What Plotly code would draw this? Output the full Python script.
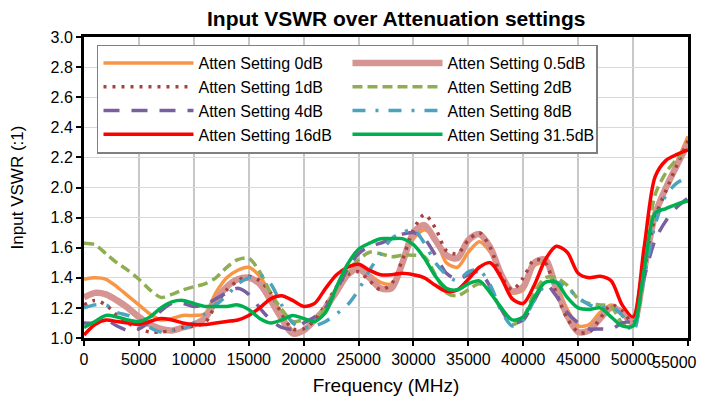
import plotly.graph_objects as go

freq = list(range(0, 56000, 1000))

vswr_0db = [1.39, 1.40, 1.39, 1.34, 1.28, 1.22, 1.16, 1.12, 1.13, 1.15,
            1.15, 1.16, 1.30, 1.40, 1.45, 1.47, 1.41, 1.29, 1.16, 1.05,
            1.05, 1.11, 1.22, 1.33, 1.43, 1.47, 1.42, 1.37, 1.36, 1.50,
            1.66, 1.72, 1.66, 1.50, 1.47, 1.57, 1.64, 1.57, 1.42, 1.30,
            1.32, 1.48, 1.50, 1.36, 1.19, 1.08, 1.09, 1.17, 1.22, 1.17,
            1.11, 1.45, 1.80, 2.00, 2.17, 2.34]
vswr_05db = [1.27, 1.30, 1.29, 1.25, 1.20, 1.14, 1.09, 1.06, 1.05, 1.07,
             1.09, 1.13, 1.25, 1.34, 1.39, 1.40, 1.36, 1.25, 1.13, 1.03,
             1.05, 1.12, 1.20, 1.31, 1.42, 1.46, 1.40, 1.33, 1.33, 1.50,
             1.70, 1.75, 1.65, 1.55, 1.53, 1.65, 1.69, 1.60, 1.42, 1.31,
             1.34, 1.50, 1.52, 1.33, 1.15, 1.04, 1.05, 1.13, 1.20, 1.17,
             1.10, 1.45, 1.82, 2.00, 2.15, 2.29]
vswr_1db = [1.22, 1.25, 1.22, 1.15, 1.10, 1.06, 1.04, 1.04, 1.05, 1.07,
            1.08, 1.10, 1.22, 1.32, 1.38, 1.41, 1.38, 1.30, 1.16, 1.06,
            1.06, 1.12, 1.22, 1.34, 1.42, 1.44, 1.38, 1.32, 1.36, 1.52,
            1.72, 1.82, 1.73, 1.58, 1.56, 1.65, 1.70, 1.60, 1.41, 1.32,
            1.40, 1.52, 1.50, 1.30, 1.13, 1.04, 1.04, 1.13, 1.22, 1.18,
            1.10, 1.45, 1.80, 1.98, 2.15, 2.31]
vswr_2db = [1.63, 1.62, 1.56, 1.50, 1.45, 1.39, 1.32, 1.27, 1.29, 1.32,
            1.34, 1.36, 1.40, 1.47, 1.52, 1.53, 1.44, 1.30, 1.19, 1.11,
            1.12, 1.12, 1.20, 1.33, 1.44, 1.52, 1.57, 1.56, 1.54, 1.55,
            1.55, 1.54, 1.42, 1.30, 1.28, 1.32, 1.36, 1.31, 1.19, 1.09,
            1.14, 1.30, 1.40, 1.40, 1.35, 1.26, 1.23, 1.22, 1.21, 1.10,
            1.08, 1.50, 1.95, 2.10, 2.19, 2.27]
vswr_4db = [1.10, 1.10, 1.12, 1.08, 1.05, 1.06, 1.11, 1.18, 1.23, 1.23,
            1.21, 1.22, 1.26, 1.30, 1.33, 1.29, 1.20, 1.12, 1.07, 1.06,
            1.10, 1.14, 1.20, 1.32, 1.46, 1.56, 1.61, 1.63, 1.66, 1.69,
            1.70, 1.66, 1.55, 1.43, 1.39, 1.42, 1.44, 1.34, 1.19, 1.10,
            1.12, 1.25, 1.36, 1.28, 1.17, 1.10, 1.06, 1.06, 1.06, 1.10,
            1.12, 1.40, 1.65, 1.78, 1.87, 1.93]
vswr_8db = [1.20, 1.22, 1.22, 1.17, 1.15, 1.12, 1.07, 1.04, 1.05, 1.06,
            1.10, 1.16, 1.22, 1.28, 1.36, 1.40, 1.42, 1.36, 1.22, 1.10,
            1.07, 1.08, 1.11, 1.16, 1.22, 1.32, 1.45, 1.56, 1.66, 1.70,
            1.72, 1.63, 1.50, 1.42, 1.38, 1.44, 1.45, 1.35, 1.18, 1.08,
            1.12, 1.25, 1.35, 1.37, 1.33, 1.27, 1.22, 1.20, 1.21, 1.15,
            1.04, 1.40, 1.75, 1.95, 2.03, 2.07]
vswr_16db = [1.02, 1.09, 1.12, 1.11, 1.10, 1.09, 1.11, 1.13, 1.12, 1.10,
             1.09, 1.09, 1.10, 1.11, 1.12, 1.15, 1.20, 1.26, 1.28, 1.25,
             1.21, 1.23, 1.33, 1.42, 1.47, 1.49, 1.45, 1.42, 1.42, 1.43,
             1.42, 1.40, 1.35, 1.31, 1.32, 1.39, 1.47, 1.50, 1.40, 1.26,
             1.23, 1.35, 1.52, 1.61, 1.57, 1.43, 1.40, 1.41, 1.38, 1.22,
             1.14, 1.60, 2.07, 2.18, 2.22, 2.25]
vswr_315db = [1.07, 1.11, 1.15, 1.14, 1.12, 1.11, 1.14, 1.20, 1.24, 1.25,
              1.23, 1.21, 1.21, 1.21, 1.22, 1.19, 1.13, 1.10, 1.12, 1.15,
              1.13, 1.11, 1.17, 1.34, 1.49, 1.59, 1.63, 1.66, 1.66, 1.66,
              1.62, 1.53, 1.41, 1.33, 1.32, 1.36, 1.38, 1.30, 1.20, 1.12,
              1.14, 1.27, 1.37, 1.37, 1.27, 1.20, 1.19, 1.20, 1.14, 1.08,
              1.08, 1.45, 1.83, 1.86, 1.89, 1.91]

series_names = ["Atten Setting 0dB", "Atten Setting 0.5dB", "Atten Setting 1dB",
                "Atten Setting 2dB", "Atten Setting 4dB", "Atten Setting 8dB",
                "Atten Setting 16dB", "Atten Setting 31.5dB"]
series_values = [vswr_0db, vswr_05db, vswr_1db, vswr_2db, vswr_4db, vswr_8db,
                 vswr_16db, vswr_315db]
x_ticks = list(range(0, 56000, 5000))
x_tick_labels = [str(v) for v in x_ticks]
y_ticks = [1.0, 1.2, 1.4, 1.6, 1.8, 2.0, 2.2, 2.4, 2.6, 2.8, 3.0]

styles = [
    dict(color="#F79646", width=3.5, dash="solid"),
    dict(color="#D69592", width=6.5, dash="solid"),
    dict(color="#A5433F", width=3.5, dash="3px,6px"),
    dict(color="#8FAE53", width=3.5, dash="10px,5px"),
    dict(color="#7A5FA0", width=3.5, dash="16px,12px"),
    dict(color="#4BA3C0", width=3.5, dash="13px,10px,3px,10px"),
    dict(color="#FF0000", width=3.5, dash="solid"),
    dict(color="#00B050", width=3.5, dash="solid"),
]

fig = go.Figure()
for name, vals, st in zip(series_names, series_values, styles):
    fig.add_trace(go.Scatter(
        x=freq, y=vals, name=name, mode="lines",
        line=dict(color=st["color"], width=st["width"], dash=st["dash"],
                  shape="spline", smoothing=0.8),
    ))

font_family = "Liberation Sans, Arial, sans-serif"
fig.update_layout(
    width=697, height=394,
    margin=dict(l=76, r=17, t=29, b=64, autoexpand=False),
    paper_bgcolor="white", plot_bgcolor="white",
    font=dict(family=font_family, size=16, color="#000000"),
    title=dict(text="<b>Input VSWR over Attenuation settings</b>",
               x=0.557, xanchor="center", y=0.972, yanchor="middle",
               font=dict(size=21, family=font_family, color="#000000")),
    showlegend=True,
    legend=dict(orientation="h", x=0.0215, y=0.975, xanchor="left", yanchor="top",
                entrywidth=144, bgcolor="white", bordercolor="#808080",
                borderwidth=1.5, font=dict(size=16, family=font_family),
                itemwidth=90, tracegroupgap=0),
)
# last x tick label is placed as an annotation so it stays inside the page
tick_text_shown = x_tick_labels[:-1] + [""]
fig.add_annotation(x=x_ticks[-1], y=0, xref="x", yref="paper",
                   text=x_tick_labels[-1], showarrow=False,
                   xanchor="right", yanchor="top", xshift=11, yshift=-14,
                   font=dict(size=16, family=font_family, color="#000000"))
fig.update_xaxes(
    range=[0, 55000], tickvals=x_ticks, ticktext=tick_text_shown,
    showgrid=True, gridcolor="#C8C8C8", gridwidth=1.5,
    showline=True, linecolor="black", linewidth=3, mirror=True,
    ticks="outside", ticklen=5, tickwidth=2, tickcolor="black",
    tickfont=dict(size=16), zeroline=False, automargin=False,
    title=dict(text="Frequency (MHz)", font=dict(size=19), standoff=12),
)
fig.update_yaxes(
    range=[1.0, 3.0], tickvals=y_ticks, ticktext=[f"{v:.1f}" for v in y_ticks],
    showgrid=True, gridcolor="#D9D9D9", gridwidth=1,
    showline=True, linecolor="black", linewidth=3, mirror=True,
    ticks="outside", ticklen=5, tickwidth=2, tickcolor="black",
    tickfont=dict(size=16), zeroline=False, automargin=False,
    title=dict(text="Input VSWR (:1)", font=dict(size=17), standoff=26),
)

fig.write_html("out.html")
